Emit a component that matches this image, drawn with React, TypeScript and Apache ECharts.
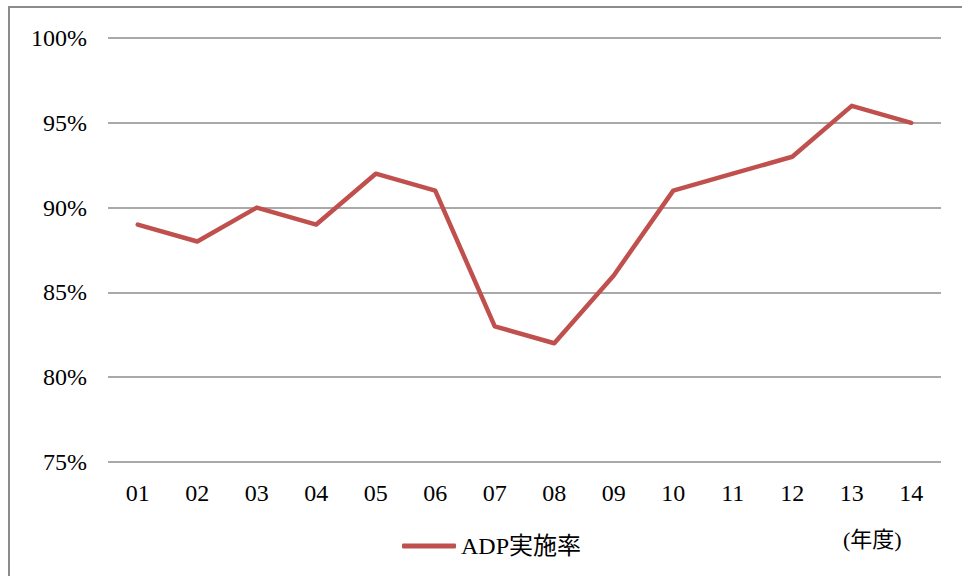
import React, { useEffect, useRef } from "react";
import * as echarts from "echarts";

const categories = ["01", "02", "03", "04", "05", "06", "07", "08", "09", "10", "11", "12", "13", "14"];
const adpRate = [89, 88, 90, 89, 92, 91, 83, 82, 86, 91, 92, 93, 96, 95];
const seriesName = "ADP実施率";
const unitLabel = "(年度)";

export default function App() {
  const ref = useRef<HTMLDivElement>(null);
  useEffect(() => {
    if (!ref.current) return;
    const chart = echarts.init(ref.current, null, { renderer: "svg" });
    const serif = "'Liberation Serif', 'DejaVu Serif', serif";
    const mixed = "'Liberation Serif', 'Noto Sans CJK JP', serif";
    chart.setOption({
      animation: false,
      backgroundColor: "#fff",
      textStyle: { fontFamily: serif },
      graphic: [
        {
          type: "rect",
          shape: { x: 9, y: 7, width: 1000, height: 1000 },
          style: { fill: "none", stroke: "#8c8c8c", lineWidth: 2 },
          silent: true,
        },
        {
          type: "text",
          left: 843,
          top: 528,
          style: {
            text: unitLabel,
            fontSize: 22,
            fill: "#000",
            fontFamily: mixed,
          },
        },
      ],
      legend: {
        data: [seriesName],
        left: 397,
        top: 529,
        icon: "roundRect",
        itemWidth: 54,
        itemHeight: 5,
        itemGap: 0,
        itemStyle: { color: "#c0504d" },
        textStyle: {
          fontSize: 24,
          color: "#000",
          fontFamily: mixed,
        },
      },
      grid: { left: 108, right: 21, top: 38, bottom: 114, containLabel: false },
      xAxis: {
        type: "category",
        data: categories,
        boundaryGap: true,
        axisLine: { show: false },
        axisTick: { show: false },
        axisLabel: { fontSize: 24, color: "#000", margin: 19, fontFamily: serif },
      },
      yAxis: {
        type: "value",
        min: 75,
        max: 100,
        interval: 5,
        axisLine: { show: false },
        axisTick: { show: false },
        axisLabel: { fontSize: 24, color: "#000", margin: 21, formatter: "{value}%", fontFamily: serif },
        splitLine: { lineStyle: { color: "#8c8c8c", width: 1.5 } },
      },
      series: [
        {
          name: seriesName,
          type: "line",
          data: adpRate,
          showSymbol: false,
          symbol: "none",
          lineStyle: { color: "#c0504d", width: 4.5, cap: "round", join: "round" },
          itemStyle: { color: "#c0504d" },
        },
      ],
    });
    return () => chart.dispose();
  }, []);
  return (
    <div
      ref={ref}
      style={{ position: "fixed", left: 0, top: 0, width: 962, height: 576 }}
    />
  );
}
